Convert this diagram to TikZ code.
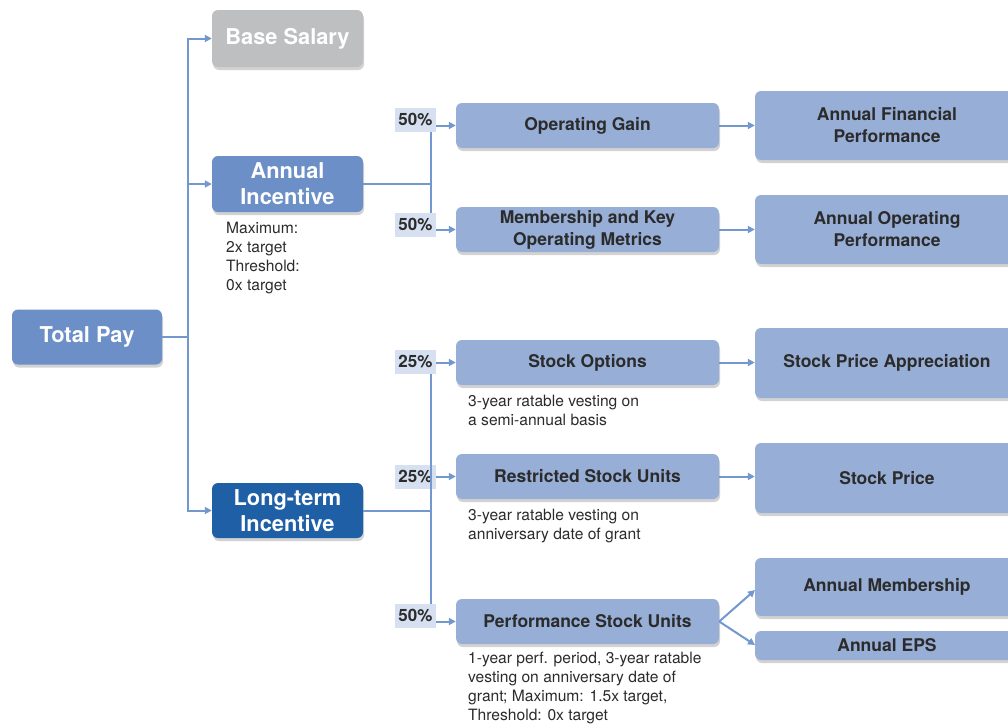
\documentclass[tikz,border=0pt]{standalone}
\usepackage{fontspec}
\setmainfont{TeX Gyre Heros}
\usetikzlibrary{shadows,arrows.meta}
\definecolor{midblue}{HTML}{6B8FC6}
\definecolor{darkblue}{HTML}{1E5FA6}
\definecolor{lightblue}{HTML}{97AED6}
\definecolor{pctbg}{HTML}{D6E0F0}
\definecolor{greybox}{HTML}{BEBFC1}
\definecolor{linec}{HTML}{7298CE}
\definecolor{txt}{HTML}{2B2B2B}
\tikzset{
  box/.style={rounded corners=6pt, align=center, inner sep=0pt,
    drop shadow={shadow xshift=1pt, shadow yshift=-3pt, opacity=0.25, fill=black!70}},
  bigbox/.style={box, font=\fontsize{21.8}{26}\selectfont\bfseries, text=white, minimum width=151pt},
  midbox/.style={box, fill=lightblue, font=\fontsize{17.5}{22}\selectfont\bfseries, text=txt, minimum width=263pt, minimum height=45pt},
  rbox/.style={box, fill=lightblue, font=\fontsize{17.5}{22}\selectfont\bfseries, text=txt, minimum width=264pt},
  pct/.style={fill=pctbg, font=\fontsize{17}{17}\selectfont\bfseries, text=txt, minimum width=41pt, minimum height=24pt, inner sep=0pt},
  note/.style={anchor=north west, align=left, font=\fontsize{15.6}{19}\selectfont, text=txt, inner sep=0pt},
  ln/.style={draw=linec, line width=2pt},
  arr/.style={ln, -{Triangle[length=7pt,width=7pt]}}
}
\begin{document}
\begin{tikzpicture}[x=1pt,y=-1pt]
\useasboundingbox (0,0) rectangle (1008,723);
% left column
\node[bigbox, fill=midblue, minimum width=150pt, minimum height=55pt] (tp) at (87,337) {Total Pay};
\node[bigbox, fill=greybox, minimum height=57pt] (bs) at (287.5,38.5) {Base Salary};
\node[bigbox, fill=midblue, minimum height=56pt] (ai) at (287.5,184) {Annual\\Incentive};
\node[bigbox, fill=darkblue, minimum height=55pt] (lt) at (287.5,510.5) {Long-term\\Incentive};
\node[note] (ainote) at (226,222) {Maximum:\\2x target\\Threshold:\\0x target};
% middle column
\node[midbox] (og) at (587.5,125.5) {Operating Gain};
\node[midbox] (mk) at (587.5,229.5) {Membership and Key\\Operating Metrics};
\node[midbox] (so) at (587.5,362.5) {Stock Options};
\node[midbox] (rsu) at (587.5,476.5) {Restricted Stock Units};
\node[midbox] (psu) at (587.5,621.5) {Performance Stock Units};
\node[note] (sonote) at (468,395) {3-year ratable vesting on\\a semi-annual basis};
\node[note] (rsunote) at (468,509) {3-year ratable vesting on\\anniversary date of grant};
\node[note] (psunote) at (468,652) {1-year perf. period, 3-year ratable\\vesting on anniversary date of\\grant; Maximum: 1.5x target,\\Threshold: 0x target};
% right column
\node[rbox, minimum height=69pt] (afp) at (887,125.5) {Annual Financial\\Performance};
\node[rbox, minimum height=69pt] (aop) at (887,229.5) {Annual Operating\\Performance};
\node[rbox, minimum height=70pt] (spa) at (887,363) {Stock Price Appreciation};
\node[rbox, minimum height=70pt] (sp) at (887,478) {Stock Price};
\node[rbox, minimum height=58pt] (am) at (887,587) {Annual Membership};
\node[rbox, minimum height=29pt] (eps) at (887,645.5) {Annual EPS};
% percent labels
\node[pct] (p1) at (415.5,119.5) {50\%};
\node[pct] (p2) at (415.5,225) {50\%};
\node[pct] (p3) at (415.5,362) {25\%};
\node[pct] (p4) at (415.5,477) {25\%};
\node[pct] (p5) at (415.5,616) {50\%};
% trunk
\coordinate (t) at (188,337);
\draw[ln] (tp.east) -- (t);
\draw[arr] (t) |- (bs.west);
\draw[arr] (t) |- (ai.west);
\draw[arr] (t) |- (lt.west);
% annual branch
\coordinate (a1) at (431,184);
\draw[ln] (ai.east) -- (a1);
\draw[ln] (p1.south -| a1) -- (p2.north -| a1);
\draw[arr] (p1.east |- og.west) -- (og.west);
\draw[arr] (p2.east |- mk.west) -- (mk.west);
% long-term branch
\coordinate (l1) at (431,510.5);
\draw[ln] (lt.east) -- (l1);
\draw[ln] (p3.south -| l1) -- (p5.north -| l1);
\draw[arr] (p3.east |- so.west) -- (so.west);
\draw[arr] (p4.east |- rsu.west) -- (rsu.west);
\draw[arr] (p5.east |- psu.west) -- (psu.west);
% to right column
\draw[arr] (og.east) -- (afp.west |- og.east);
\draw[arr] (mk.east) -- (aop.west |- mk.east);
\draw[arr] (so.east) -- (spa.west |- so.east);
\draw[arr] (rsu.east) -- (sp.west |- rsu.east);
\coordinate (amin) at (755,590);
\coordinate (epsin) at (755,645);
\draw[arr] (psu.east) -- (amin);
\draw[arr] (psu.east) -- (epsin);
\end{tikzpicture}
\end{document}
